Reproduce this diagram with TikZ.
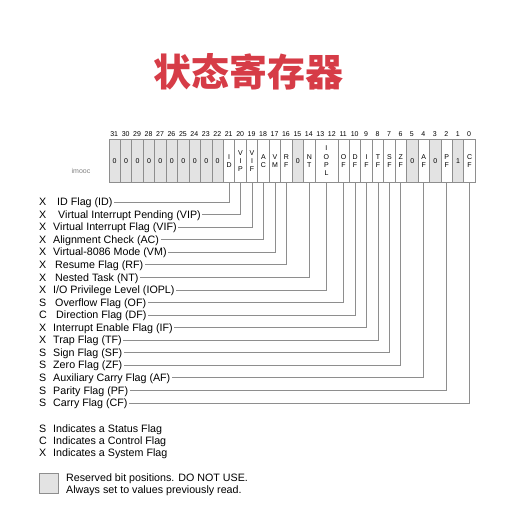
\documentclass[tikz,border=0pt]{standalone}
\usepackage{fontspec}
\setmainfont{Liberation Sans}
\newfontfamily\cjk{Noto Sans CJK SC}
\usepackage{tikz}
\usetikzlibrary{positioning}
\definecolor{titlered}{HTML}{D63C47}
\definecolor{linegray}{HTML}{8E8E8E}
\definecolor{resgray}{HTML}{E3E3E3}

\begin{document}
\begin{tikzpicture}[
    x=1pt, y=-1pt,
    cell/.style={rectangle, draw=linegray, line width=0.8pt, anchor=north west, minimum width=11.45pt, minimum height=43pt, inner sep=0pt, align=center, font=\fontsize{7}{8.3}\selectfont},
    res/.style={cell, fill=resgray},
    bitnum/.style={inner sep=0pt, font=\fontsize{7}{8}\selectfont},
    kind/.style={anchor=west, inner sep=0pt, text height=7.7pt, text depth=0.3pt, font=\fontsize{10.7}{12}\selectfont},
    flagtext/.style={anchor=west, inner sep=1.5pt, text height=7.7pt, text depth=0.3pt, font=\fontsize{10.7}{12}\selectfont},
    leader/.style={draw=linegray, line width=0.8pt}
]
\useasboundingbox (0,0) rectangle (506,505);

% Title
\node[font=\cjk\bfseries\fontsize{38}{40}\selectfont, text=titlered] (title) at (248,72) {状态寄存器};
\node[font=\fontsize{7}{8}\selectfont, text=gray] (wm) at (81,171) {imooc};

% Register cells
\foreach \bt in {31,...,22}
  \node[res] (b\bt) at ({108.5+(31-\bt)*11.45},139) {0};
\foreach \bt/\fc/\tx in {21/white/{I\\D}, 20/white/{V\\I\\P}, 19/white/{V\\I\\F},
    18/white/{A\\C}, 17/white/{V\\M}, 16/white/{R\\F}, 15/resgray/0, 14/white/{N\\T},
    11/white/{O\\F}, 10/white/{D\\F}, 9/white/{I\\F}, 8/white/{T\\F}, 7/white/{S\\F},
    6/white/{Z\\F}, 5/resgray/0, 4/white/{A\\F}, 3/resgray/0, 2/white/{P\\F},
    1/resgray/1, 0/white/{C\\F}}
  \node[cell, fill=\fc] (b\bt) at ({108.5+(31-\bt)*11.45},139) {\tx};
\node[cell, minimum width=22.9pt] (b12) at ({108.5+18*11.45},139) {I\\O\\P\\L};

% Bit numbers
\foreach \bt in {31,...,0}
  \node[bitnum] (n\bt) at ({108.5+(31.5-\bt)*11.45},134) {\bt};

% Flags and leaders
\foreach \fl/\bt/\ty/\xx/\tx [count=\i from 0] in {
    ID/21/X/55.5/{ID Flag (ID)},
    VIP/20/X/56.5/{Virtual Interrupt Pending (VIP)},
    VIF/19/X/51.5/{Virtual Interrupt Flag (VIF)},
    AC/18/X/51.5/{Alignment Check (AC)},
    VM/17/X/51.5/{Virtual-8086 Mode (VM)},
    RF/16/X/53.5/{Resume Flag (RF)},
    NT/14/X/53.5/{Nested Task (NT)},
    IOPL/12/X/51.5/{I/O Privilege Level (IOPL)},
    OF/11/S/53.5/{Overflow Flag (OF)},
    DF/10/C/54.5/{Direction Flag (DF)},
    IF/9/X/51.5/{Interrupt Enable Flag (IF)},
    TF/8/X/51.5/{Trap Flag (TF)},
    SF/7/S/51.5/{Sign Flag (SF)},
    ZF/6/S/51.5/{Zero Flag (ZF)},
    AF/4/S/51.5/{Auxiliary Carry Flag (AF)},
    PF/2/S/51.5/{Parity Flag (PF)},
    CF/0/S/51.5/{Carry Flag (CF)}} {
  \node[kind] (k\fl) at (39,{202+\i*12.56}) {\ty};
  \node[flagtext] (l\fl) at (\xx,{202+\i*12.56}) {\tx};
  \draw[leader] (l\fl.east) -| (b\bt.south);
}

% Legend
\node[kind] (ks) at (39,429) {S};
\node[flagtext] (ls) at (51.5,429) {Indicates a Status Flag};
\node[kind] (kc) at (39,441) {C};
\node[flagtext] (lc) at (51.5,441) {Indicates a Control Flag};
\node[kind] (kx) at (39,453) {X};
\node[flagtext] (lx) at (51.5,453) {Indicates a System Flag};

\node[res, minimum width=19pt, minimum height=20pt] (resbox) at (39,473) {};
\node[flagtext] (resnote) at (64.5,478) {Reserved bit positions. DO NOT USE.};
\node[flagtext] (resnote2) at (64.5,490) {Always set to values previously read.};

\end{tikzpicture}
\end{document}
